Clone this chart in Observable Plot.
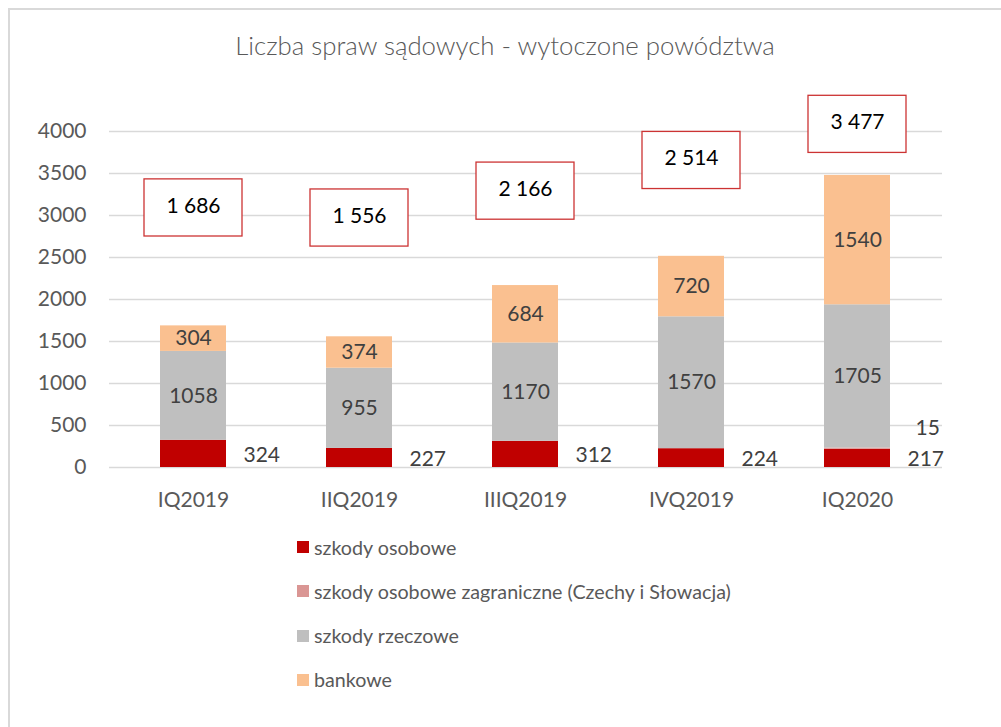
<!DOCTYPE html>
<html><head><meta charset="utf-8">
<script src="https://cdn.jsdelivr.net/npm/d3@7"></script>
<script src="https://cdn.jsdelivr.net/npm/@observablehq/plot@0.6"></script>
<style>
body{margin:0;overflow:hidden;background:#fff;font-family:Lato,sans-serif;width:1001px;height:727px;position:relative;}
#frame{position:absolute;left:8px;top:8px;width:1200px;height:900px;border:2px solid #d9d9d9;}
#title{position:absolute;left:0;width:1010px;top:30px;text-align:center;font-size:25.8px;font-weight:300;color:#595959;line-height:30px;}
#chart{position:absolute;left:0;top:0;}
.item{position:absolute;left:297px;height:24px;display:flex;align-items:center;font-size:19.7px;color:#595959;white-space:nowrap;}
.sw{width:12px;height:12px;margin-right:5px;display:inline-block;}
</style>
</head><body>
<div id="frame"></div>
<div id="title">Liczba spraw sądowych - wytoczone powództwa</div>
<div id="chart"></div>
<div id="legend"></div>
<script>
const quarters = ["IQ2019","IIQ2019","IIIQ2019","IVQ2019","IQ2020"];
const seriesNames = ["szkody osobowe","szkody osobowe zagraniczne (Czechy i Słowacja)","szkody rzeczowe","bankowe"];
const osobowe = [324,227,312,224,217];
const zagraniczne = [0,0,0,0,15];
const rzeczowe = [1058,955,1170,1570,1705];
const bankowe = [304,374,684,720,1540];
const totals = [1686,1556,2166,2514,3477];
const totalBoxY = [3090,2970,3290,3655,4085];
const colors = ["#C00000","#DA9694","#BFBFBF","#FAC090"];
const yTicks = [0,500,1000,1500,2000,2500,3000,3500,4000];

const valuesBySeries = [osobowe, zagraniczne, rzeczowe, bankowe];
const rows = [];
seriesNames.forEach((s, si) => quarters.forEach((q, qi) => rows.push({q, series: s, value: valuesBySeries[si][qi]})));
const boxRows = quarters.map((q, i) => ({q, total: totals[i], boxY: totalBoxY[i]}));
const fmt = d3.formatLocale({thousands: "\u00a0", grouping: [3], decimal: ","}).format(",");

const stackOpts = {x: "q", y: "value", z: "series", order: seriesNames};

const chart = Plot.plot({
  width: 1001,
  height: 520,
  marginTop: 131,
  marginBottom: 53,
  marginLeft: 109,
  marginRight: 59,
  style: {fontFamily: "Lato, sans-serif", fontSize: "21px", color: "#595959", background: "transparent"},
  x: {domain: quarters, paddingInner: 0.6, paddingOuter: 0.3, label: null},
  y: {domain: [0, 4000], label: null},
  color: {domain: seriesNames, range: colors},
  marks: [
    Plot.gridY(yTicks, {stroke: "#d9d9d9", strokeOpacity: 1, strokeWidth: 1.3}),
    Plot.axisY({ticks: yTicks, tickFormat: d => String(d), tickSize: 0, tickPadding: 23, label: null}),
    Plot.axisX({tickSize: 0, tickPadding: 25, label: null}),
    Plot.barY(rows, {...stackOpts, fill: "series"}),
    Plot.text(rows, Plot.stackY({...stackOpts, text: d => (d.series === seriesNames[2] || d.series === seriesNames[3]) ? String(d.value) : null, fill: "#404040"})),
    Plot.text(rows, Plot.stackY({...stackOpts, text: d => d.series === seriesNames[0] ? String(d.value) : null, fill: "#404040", textAnchor: "start", dx: 50, dy: 1})),
    Plot.text(rows, Plot.stackY({...stackOpts, text: d => (d.series === seriesNames[1] && d.value > 0) ? String(d.value) : null, fill: "#404040", textAnchor: "start", dx: 58, dy: -20})),
    Plot.barY(boxRows, {x: "q", y1: d => d.boxY - 340, y2: d => d.boxY + 340, fill: "white", stroke: "#cc3333", strokeWidth: 1.3, insetLeft: -16, insetRight: -16}),
    Plot.text(boxRows, {x: "q", y: "boxY", text: d => fmt(d.total), fill: "black", dy: -2})
  ]
});
document.getElementById("chart").appendChild(chart);

const legend = document.getElementById("legend");
seriesNames.forEach((s, i) => {
  const el = document.createElement("div");
  el.className = "item";
  el.style.top = (547 + i * 44.3 - 12) + "px";
  el.innerHTML = `<span class="sw" style="background:${colors[i]}"></span><span>${s}</span>`;
  legend.appendChild(el);
});
</script>
</body></html>
